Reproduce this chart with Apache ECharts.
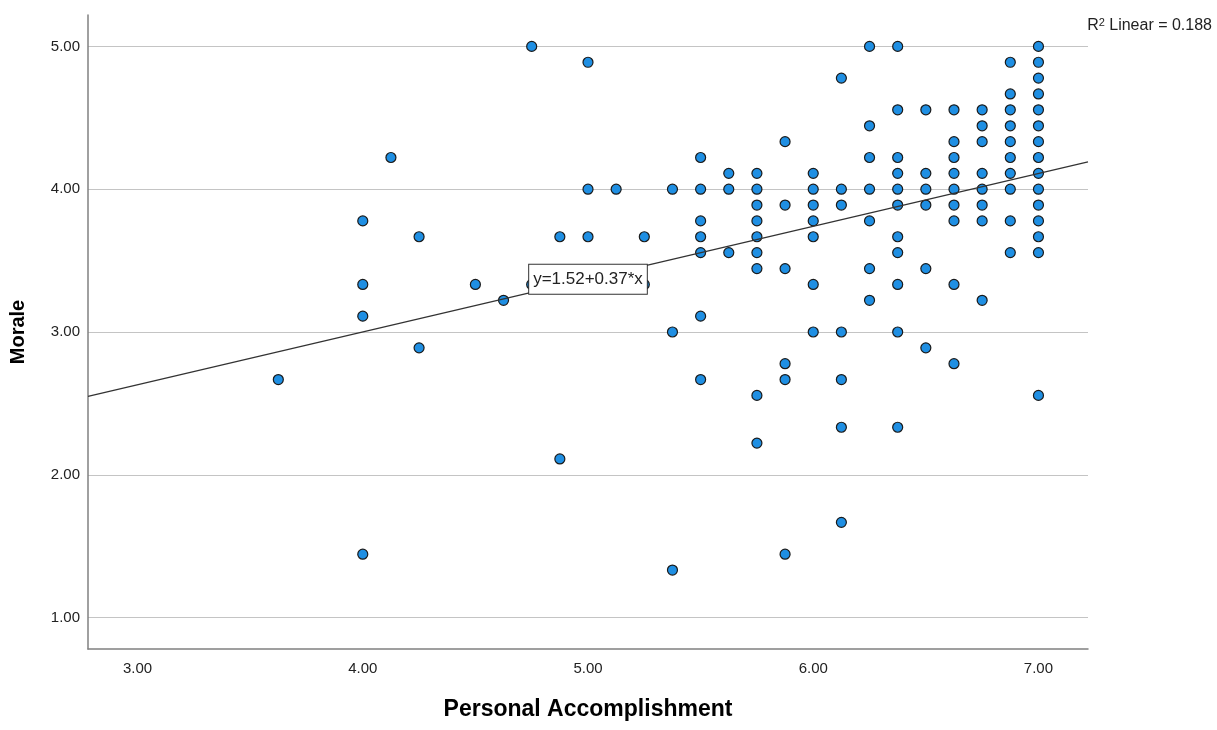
<!DOCTYPE html>
<html>
<head>
<meta charset="utf-8">
<script src="https://cdn.jsdelivr.net/npm/echarts@6/dist/echarts.min.js"></script>
<style>
  html, body { margin: 0; padding: 0; background: #fff; }
  #chart { width: 1217px; height: 730px; }
</style>
</head>
<body>
<div id="chart"></div>
<script>
// Personal Accomplishment (x) columns and the Morale (y) values observed at each
const paColumns = [3.625, 4.0, 4.125, 4.25, 4.5, 4.625, 4.75, 4.875, 5.0, 5.125, 5.25, 5.375, 5.5, 5.625, 5.75, 5.875, 6.0, 6.125, 6.25, 6.375, 6.5, 6.625, 6.75, 6.875, 7.0];
const moraleByColumn = [
  [2.667],
  [3.778, 3.333, 3.111, 1.444],
  [4.222],
  [3.667, 2.889],
  [3.333],
  [3.222],
  [5.0, 3.333],
  [3.667, 2.111],
  [4.889, 4.0, 3.667],
  [4.0],
  [3.667, 3.333],
  [4.0, 3.0, 1.333],
  [4.222, 4.0, 3.778, 3.667, 3.556, 3.111, 2.667],
  [4.111, 4.0, 3.556],
  [4.111, 4.0, 3.889, 3.778, 3.667, 3.556, 3.444, 2.556, 2.222],
  [4.333, 3.889, 3.444, 2.778, 2.667, 1.444],
  [4.111, 4.0, 3.889, 3.778, 3.667, 3.333, 3.0],
  [4.778, 4.0, 3.889, 3.0, 2.667, 2.333, 1.667],
  [5.0, 4.444, 4.222, 4.0, 3.778, 3.444, 3.222],
  [5.0, 4.556, 4.222, 4.111, 4.0, 3.889, 3.667, 3.556, 3.333, 3.0, 2.333],
  [4.556, 4.111, 4.0, 3.889, 3.444, 2.889],
  [4.556, 4.333, 4.222, 4.111, 4.0, 3.889, 3.778, 3.333, 2.778],
  [4.556, 4.444, 4.333, 4.111, 4.0, 3.889, 3.778, 3.222],
  [4.889, 4.667, 4.556, 4.444, 4.333, 4.222, 4.111, 4.0, 3.778, 3.556],
  [5.0, 4.889, 4.778, 4.667, 4.556, 4.444, 4.333, 4.222, 4.111, 4.0, 3.889, 3.778, 3.667, 3.556, 2.556]
];
const xTicks = [3, 4, 5, 6, 7];
const yTicks = [1, 2, 3, 4, 5];
const xRange = [2.78, 7.22];
const yRange = [0.78, 5.22];
const fitIntercept = 1.52;
const fitSlope = 0.37;
const r2Value = 0.188;
const xTitle = 'Personal Accomplishment';
const yTitle = 'Morale';

const points = [];
paColumns.forEach((x, i) => moraleByColumn[i].forEach(y => points.push([x, y])));
const fitLine = xRange.map(x => [x, fitIntercept + fitSlope * x]);
const labelX = 5.0;

const FONT = '"Liberation Sans", Arial, sans-serif';
const chart = echarts.init(document.getElementById('chart'));
chart.setOption({
  backgroundColor: '#fff',
  animation: false,
  textStyle: { fontFamily: FONT },
  grid: { left: 86, right: 129, top: 15, bottom: 81, containLabel: false },
  xAxis: {
    type: 'value', min: xRange[0], max: xRange[1],
    name: xTitle, nameLocation: 'middle', nameGap: 49,
    nameTextStyle: { fontSize: 23, fontWeight: 'bold', color: '#000', fontFamily: FONT },
    axisLine: { show: true, onZero: false, lineStyle: { color: '#808080', width: 1.5 } },
    axisTick: { show: false, customValues: xTicks },
    axisLabel: { customValues: xTicks, formatter: v => v.toFixed(2), fontSize: 15, color: '#222', margin: 12, fontFamily: FONT },
    splitLine: { show: false }
  },
  yAxis: {
    type: 'value', min: yRange[0], max: yRange[1],
    name: yTitle, nameLocation: 'middle', nameGap: 60,
    nameTextStyle: { fontSize: 20, fontWeight: 'bold', color: '#000', fontFamily: FONT },
    axisLine: { show: true, onZero: false, lineStyle: { color: '#808080', width: 1.5 } },
    axisTick: { show: false, customValues: yTicks },
    axisLabel: { customValues: yTicks, formatter: v => v.toFixed(2), fontSize: 15, color: '#222', margin: 8, fontFamily: FONT },
    splitLine: { show: true, lineStyle: { color: '#c4c4c4', width: 1.2 } }
  },
  graphic: [{
    type: 'text', right: 5, top: 17,
    style: {
      text: 'R{sup|2} Linear = ' + r2Value.toFixed(3),
      font: '16px ' + FONT, fill: '#222',
      rich: { sup: { fontSize: 11, verticalAlign: 'top', padding: [0, 0, 7, 0], fill: '#222' } }
    }
  }],
  series: [
    {
      type: 'scatter', data: points, z: 2,
      symbol: 'circle', symbolSize: 10,
      itemStyle: { color: '#1f8fe3', borderColor: '#1a1a1a', borderWidth: 1.2, opacity: 1 },
      emphasis: { disabled: true }
    },
    {
      type: 'line', data: fitLine, z: 3,
      symbol: 'none', lineStyle: { color: '#333', width: 1.2 },
      emphasis: { disabled: true },
      markPoint: {
        symbol: 'rect', symbolSize: 1, silent: true,
        itemStyle: { color: 'rgba(0,0,0,0)' },
        data: [{ coord: [labelX, fitIntercept + fitSlope * labelX] }],
        label: {
          show: true, position: 'inside',
          formatter: 'y=' + fitIntercept.toFixed(2) + '+' + fitSlope.toFixed(2) + '*x',
          fontSize: 17, color: '#222', fontFamily: FONT,
          backgroundColor: '#fff', borderColor: '#333', borderWidth: 1,
          padding: [6, 4, 6, 4]
        }
      }
    }
  ]
});
</script>
</body>
</html>
